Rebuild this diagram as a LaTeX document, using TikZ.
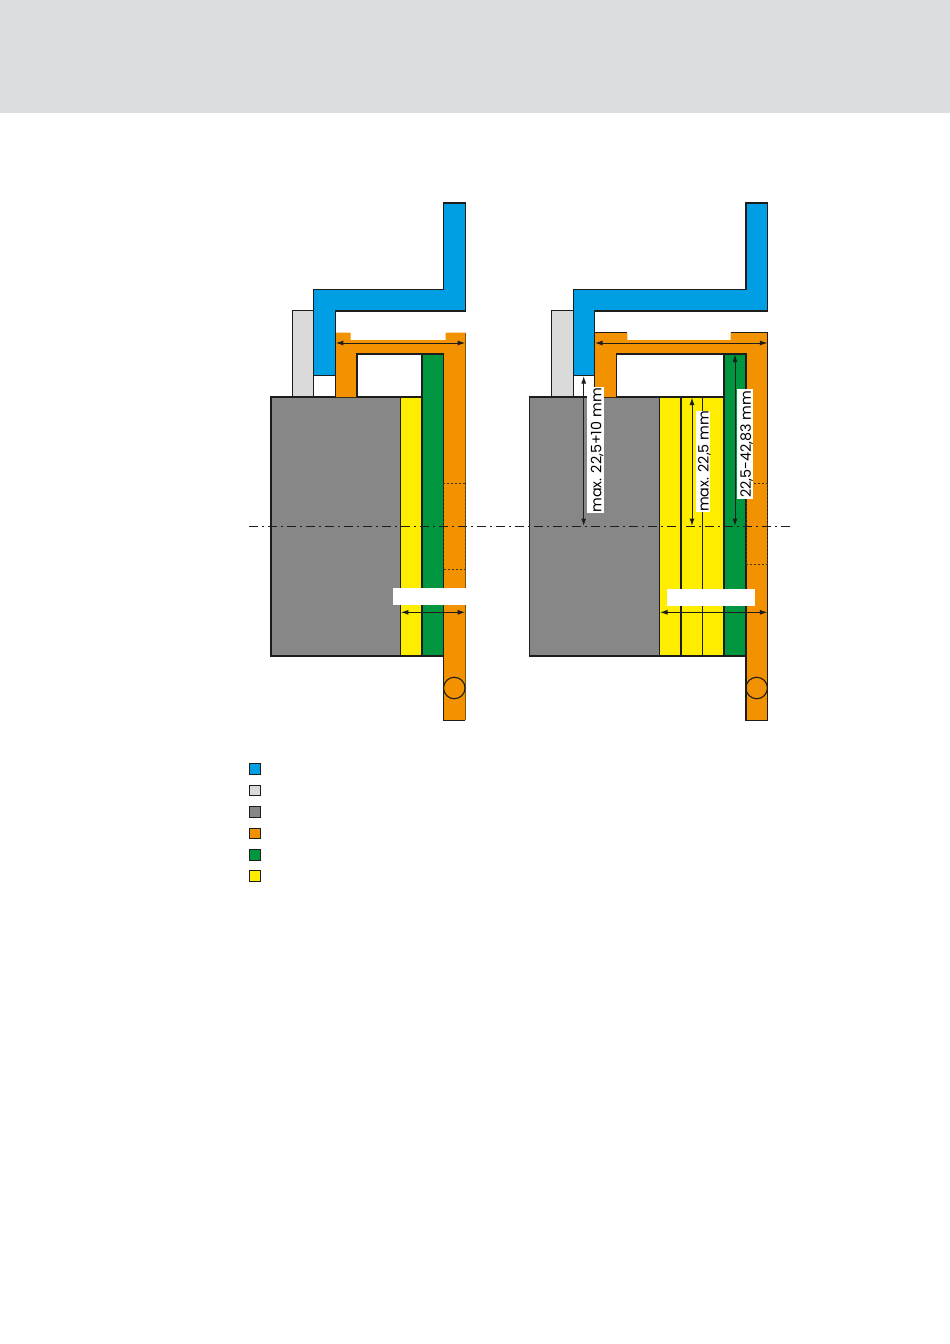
\documentclass[tikz,border=0pt]{standalone}
\usepackage{fontspec}
\setmainfont{Poppins}
\usetikzlibrary{arrows.meta}
\definecolor{cblue}{HTML}{009FE3}
\definecolor{cgray}{HTML}{878787}
\definecolor{clight}{HTML}{DADADA}
\definecolor{corange}{HTML}{F39200}
\definecolor{cgreen}{HTML}{009640}
\definecolor{cyellow}{HTML}{FFED00}
\definecolor{cbanner}{HTML}{DCDDE1}
\definecolor{cline}{HTML}{1D1D1B}
\tikzset{
  part/.style={draw=cline,line width=1.25pt,line join=miter},
  thin rule/.style={draw=cline,line width=1.1pt},
  dim/.style={draw=cline,line width=1pt,{Latex[length=7.5pt,width=5pt]}-{Latex[length=7.5pt,width=5pt]}},
  dotline/.style={draw=cline!80!corange,line width=1pt,dash pattern=on 2pt off 2pt},
  axis/.style={draw=cline,line width=1pt,dash pattern=on 9pt off 4pt on 2pt off 4pt},
  dimlabel/.style={fill=white,rotate=90,inner sep=0pt,font=\fontsize{14.3}{16}\selectfont,text depth=0pt},
  key/.style={part,minimum size=10.5pt,inner sep=0pt,line width=1.2pt},
}
\begin{document}
\begin{tikzpicture}[x=1pt,y=-1pt]
\useasboundingbox (0,0) rectangle (950,1344);
\fill[cbanner] (0,0) rectangle (950,113);

% LEFT assembly
\draw[part,fill=clight] (292.5,310.5) rectangle (313.5,397);
\draw[part,fill=white] (313.5,375.5) rectangle (335.5,397);
\draw[part,fill=cgray] (271,397) rectangle (400.7,656);
\draw[part,fill=cyellow] (400.7,397) rectangle (422,656);
\draw[part,fill=cgreen] (422,354) rectangle (443.5,656);
\fill[corange] (335.6,332.5) -- (350.7,332.5) -- (350.7,340) -- (445.7,340) -- (445.7,332.5) -- (465.4,332.5) -- (465.4,720.3) -- (443.5,720.3) -- (443.5,354) -- (357,354) -- (357,397) -- (335.6,397) -- cycle;
\draw[part] (335.6,397) -- (335.6,332.5);
\draw[part] (357,397) -- (357,354) -- (443.5,354) -- (443.5,720.3) -- (465.4,720.3);
\draw[draw=cline!55!corange,line width=1.1pt] (465.4,332.5) -- (465.4,720.3);
\draw[part,fill=cblue] (443.5,203) -- (465.4,203) -- (465.4,311) -- (335.6,311) -- (335.6,375.5) -- (313.5,375.5) -- (313.5,289.5) -- (443.5,289.5) -- cycle;
\draw[dotline] (443.5,569.5) -- (465.4,569.5) (465.4,483.3) -- (443.5,483.3) -- (443.5,569.5) (465.4,483.3) -- (465.4,569.5);
\fill[white] (393.3,587.7) rectangle (466.5,605);
\node[draw=cline,line width=1.1pt,circle,minimum size=21.5pt,inner sep=0pt] (circL) at (454.3,688) {};
\coordinate (aL1) at (335.8,343); \coordinate (aL2) at (465.2,343);
\draw[dim] (aL1) -- (aL2);
\coordinate (bL1) at (400.9,612.3); \coordinate (bL2) at (465.2,612.3);
\draw[dim] (bL1) -- (bL2);

% RIGHT assembly
\draw[part,fill=clight] (551.7,310.5) rectangle (573.3,397);
\draw[part,fill=white] (573.3,375.5) rectangle (594.3,397);
\draw[part,fill=cgray] (529.7,397) rectangle (659.5,656);
\draw[part,fill=cyellow] (659.5,397) rectangle (724,656);
\draw[thin rule] (681,397) -- (681,656) (702.7,397) -- (702.7,656);
\draw[part,fill=cgreen] (724,354) rectangle (746,656);
\fill[corange] (594.3,332.5) -- (627.3,332.5) -- (627.3,340) -- (730.7,340) -- (730.7,332.5) -- (767.7,332.5) -- (767.7,720.3) -- (746,720.3) -- (746,354) -- (616.3,354) -- (616.3,397) -- (594.3,397) -- cycle;
\draw[part] (594.3,397) -- (594.3,332.5) -- (627.3,332.5);
\draw[part] (730.7,332.5) -- (767.7,332.5);
\draw[part] (616.3,397) -- (616.3,354) -- (746,354) -- (746,720.3) -- (767.7,720.3) -- (767.7,332.5);
\draw[part,fill=cblue] (746,203) -- (767.7,203) -- (767.7,311) -- (594.3,311) -- (594.3,375.5) -- (573.3,375.5) -- (573.3,289.5) -- (746,289.5) -- cycle;
\draw[dotline] (746,564.3) -- (767.7,564.3) (767.7,483.3) -- (746,483.3) -- (746,564.3) (767.7,483.3) -- (767.7,564.3);
\fill[white] (666.7,589) rectangle (755.3,605.7);
\node[draw=cline,line width=1.1pt,circle,minimum size=21.5pt,inner sep=0pt] (circR) at (756.7,688) {};
\coordinate (aR1) at (595,343); \coordinate (aR2) at (767.4,343);
\draw[dim] (aR1) -- (aR2);
\coordinate (bR1) at (660,612.3); \coordinate (bR2) at (767.4,612.3);
\draw[dim] (bR1) -- (bR2);

% axis
\coordinate (axL) at (249,526); \coordinate (axR) at (790,526);

% vertical dimensions
\coordinate (d1a) at (583.7,376); \coordinate (d1b) at (583.7,526);
\coordinate (d2a) at (692,397.5); \coordinate (d2b) at (692,526);
\coordinate (d3a) at (735,354.5); \coordinate (d3b) at (735,526);
\draw[dim] (d1a) -- (d1b);
\draw[dim] (d2a) -- (d2b);
\draw[dim] (d3a) -- (d3b);
\draw[axis] (axL) -- (axR);

\fill[white] (586.7,387.3) rectangle (604.2,513.3);
\fill[white] (695.7,411) rectangle (710.3,511.7);
\fill[white] (737.3,389.3) rectangle (753.3,499);
\node[dimlabel] (l1) at (596.2,450.3) {max. 22,5+10 mm};
\node[dimlabel] (l2) at (703.3,461.3) {max. 22,5 mm};
\node[dimlabel] (l3) at (745.6,444.2) {22,5-42,83 mm};

% legend
\node[key,fill=cblue] (k1) at (254.9,769) {};
\node[key,fill=clight] (k2) at (254.9,790.5) {};
\node[key,fill=cgray] (k3) at (254.9,812) {};
\node[key,fill=corange] (k4) at (254.9,833.5) {};
\node[key,fill=cgreen] (k5) at (254.9,855) {};
\node[key,fill=cyellow] (k6) at (254.9,876) {};
\end{tikzpicture}
\end{document}
